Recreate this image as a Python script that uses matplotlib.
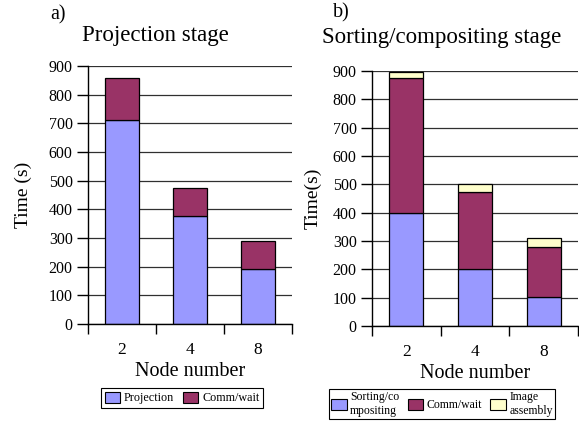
import matplotlib
matplotlib.use("Agg")
import matplotlib.pyplot as plt
from matplotlib.patches import Patch
import numpy as np

nodes = ["2", "4", "8"]
proj_projection = [710, 376, 192]
proj_comm = [148, 99, 99]

sort_compositing = [398, 200, 103]
sort_comm = [477, 272, 176]
sort_image = [20, 30, 30]

c_blue = "#9999FF"
c_plum = "#993366"
c_yellow = "#FFFFCC"

plt.rcParams['font.family'] = ['Liberation Serif', 'DejaVu Serif']

fig = plt.figure(figsize=(5.79, 4.21), dpi=100)
axL = fig.add_axes([88/579, 1-324/421, (292-88)/579, (324-66)/421])
axR = fig.add_axes([372/579, 1-326/421, (578-372)/579, (326-71)/421])

def style(ax, ylabel):
    x = np.arange(len(nodes))
    ax.set_xlim(-0.5, 2.5)
    ax.set_ylim(0, 900)
    ax.set_yticks(range(0, 901, 100))
    ax.yaxis.grid(True, color='#303030', lw=0.9)
    ax.set_axisbelow(True)
    for s in ['top', 'right']:
        ax.spines[s].set_visible(False)
    ax.spines['left'].set_linewidth(1.0)
    ax.spines['bottom'].set_linewidth(1.0)
    ax.set_xticks([-0.5, 0.5, 1.5, 2.5])
    ax.set_xticklabels([])
    ax.set_xticks(x, minor=True)
    ax.set_xticklabels(nodes, minor=True, fontsize=12.5)
    ax.tick_params(axis='x', which='major', direction='out', length=7, width=1)
    ax.tick_params(axis='x', which='minor', length=0, pad=13)
    ax.tick_params(axis='y', direction='out', length=8, width=1, labelsize=11.5, pad=3)
    ax.set_xlabel("Node number", fontsize=14.5, labelpad=3)
    ax.set_ylabel(ylabel, fontsize=14)

x = np.arange(len(nodes))
w = 0.5
kw = dict(width=w, edgecolor='black', linewidth=0.9)
axL.bar(x, proj_projection, color=c_blue, **kw)
axL.bar(x, proj_comm, bottom=proj_projection, color=c_plum, **kw)
style(axL, "Time (s)")
axL.yaxis.set_label_coords(-56/204, 0.5)

b2 = np.array(sort_compositing) + np.array(sort_comm)
axR.bar(x, sort_compositing, color=c_blue, **kw)
axR.bar(x, sort_comm, bottom=sort_compositing, color=c_plum, **kw)
axR.bar(x, sort_image, bottom=b2, color=c_yellow, **kw)
style(axR, "Time(s)")
axR.yaxis.set_label_coords(-50/206, 0.5)

fig.text(50/579, 1-15/421, "a)", fontsize=14.5, va='center', ha='left')
fig.text(155/579, 1-36/421, "Projection stage", fontsize=16.5, va='center', ha='center')
fig.text(333/579, 1-13/421, "b)", fontsize=14.5, va='center', ha='left')
fig.text(442/579, 1-37/421, "Sorting/compositing stage", fontsize=16.5, va='center', ha='center')

def ph(c):
    return Patch(facecolor=c, edgecolor='black', linewidth=0.8)

legL = fig.legend([ph(c_blue), ph(c_plum)], ["Projection", "Comm/wait"],
                  loc='center', bbox_to_anchor=(182/579, 1-398/421), ncol=2,
                  fontsize=8.7, frameon=True, fancybox=False, framealpha=1,
                  edgecolor='black', handlelength=1.3, handleheight=1.1,
                  handletextpad=0.3, columnspacing=0.7, borderpad=0.3, borderaxespad=0)
legL.get_frame().set_linewidth(0.8)

legR = fig.legend([ph(c_blue), ph(c_plum), ph(c_yellow)],
                  ["Sorting/co\nmpositing", "Comm/wait", "Image\nassembly"],
                  loc='center', bbox_to_anchor=(442/579, 1-404/421), ncol=3,
                  fontsize=8.5, frameon=True, fancybox=False, framealpha=1,
                  edgecolor='black', handlelength=1.3, handleheight=1.1,
                  handletextpad=0.3, columnspacing=0.7, borderpad=0.2, borderaxespad=0,
                  labelspacing=0.1)
legR.get_frame().set_linewidth(0.8)

fig.savefig("out.png", dpi=100)
